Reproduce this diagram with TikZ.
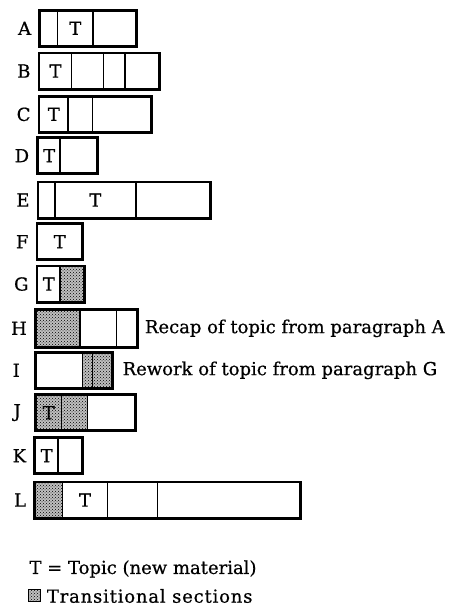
\documentclass[tikz,border=0pt]{standalone}
\usepackage{fontspec}
\setmainfont{DejaVu Serif}[FakeBold=0.6]
\usetikzlibrary{patterns}
\tikzset{
  cell/.style={draw, line width=1.7pt, inner sep=0pt, minimum height=35pt, anchor=north west, font=\fontsize{18}{21}\selectfont},
  shaded/.style={fill=black!25, postaction={pattern=crosshatch dots, pattern color=black}},
  frame/.style={draw, line width=2.2pt},
  lab/.style={anchor=east, inner sep=0pt, font=\fontsize{18}{21}\selectfont},
  txt/.style={anchor=west, inner sep=0pt, font=\fontsize{18}{21}\selectfont},
}
\begin{document}
\begin{tikzpicture}[x=1pt,y=-1pt]
\useasboundingbox (0,0) rectangle (450,610);
% A
\node[cell, minimum width=17.4pt] (A1) at (39.3,10) {};
\node[cell, minimum width=35.6pt] (A2) at (56.7,10) {T};
\node[cell, minimum width=42.7pt] (A3) at (92.3,10) {};
\draw[frame] (A1.north west) rectangle (A3.south east);
\node[lab] (LA) at ([xshift=-8pt]A1.west) {A};
% B
\node[cell, minimum width=32pt] (B1) at (38.7,52.7) {T};
\node[cell, minimum width=32pt] (B2) at (70.7,52.7) {};
\node[cell, minimum width=21.3pt] (B3) at (102.7,52.7) {};
\node[cell, minimum width=34.3pt] (B4) at (124,52.7) {};
\draw[frame] (B1.north west) rectangle (B4.south east);
\node[lab] (LB) at ([xshift=-8pt]B1.west) {B};
% C
\node[cell, minimum width=28.6pt] (C1) at (38.7,96) {T};
\node[cell, minimum width=24.4pt] (C2) at (67.3,96) {};
\node[cell, minimum width=58.3pt] (C3) at (91.7,96) {};
\draw[frame] (C1.north west) rectangle (C3.south east);
\node[lab] (LC) at ([xshift=-8pt]C1.west) {C};
% D
\node[cell, minimum width=22pt] (D1) at (37.3,137.3) {T};
\node[cell, minimum width=36.7pt] (D2) at (59.3,137.3) {};
\draw[frame] (D1.north west) rectangle (D2.south east);
\node[lab] (LD) at ([xshift=-8pt]D1.west) {D};
% E
\node[cell, minimum width=16.3pt] (E1) at (37.7,181.7) {};
\node[cell, minimum width=81pt] (E2) at (54,181.7) {T};
\node[cell, minimum width=74pt] (E3) at (135,181.7) {};
\draw[frame] (E1.north west) rectangle (E3.south east);
\node[lab] (LE) at ([xshift=-8pt]E1.west) {E};
% F
\node[cell, minimum width=44.3pt] (F1) at (36.7,223.3) {T};
\draw[frame] (F1.north west) rectangle (F1.south east);
\node[lab] (LF) at ([xshift=-8pt]F1.west) {F};
% G
\node[cell, minimum width=22.6pt] (G1) at (36.7,265.7) {T};
\node[cell, shaded, minimum width=24pt] (G2) at (59.3,265.7) {};
\draw[frame] (G1.north west) rectangle (G2.south east);
\node[lab] (LG) at ([xshift=-8pt]G1.west) {G};
% H
\node[cell, shaded, minimum width=44pt, minimum height=37pt] (H1) at (35,309) {};
\node[cell, minimum width=36.7pt, minimum height=37pt] (H2) at (79,309) {};
\node[cell, minimum width=20.3pt, minimum height=37pt] (H3) at (115.7,309) {};
\draw[frame] (H1.north west) rectangle (H3.south east);
\node[lab] (LH) at ([xshift=-8pt]H1.west) {H};
\node[txt] (RH) at ([xshift=7pt]H3.east) {Recap of topic from paragraph A};
% I
\node[cell, minimum width=46.7pt] (I1) at (35,352) {};
\node[cell, shaded, minimum width=10pt] (I2) at (81.7,352) {};
\node[cell, shaded, minimum width=19pt] (I3) at (91.7,352) {};
\draw[frame] (I1.north west) rectangle (I3.south east);
\node[lab] (LI) at ([xshift=-15pt]I1.west) {I};
\node[txt] (RI) at ([xshift=10pt]I3.east) {Rework of topic from paragraph G};
% J
\node[cell, shaded, minimum width=25.7pt] (J1) at (35,394.3) {T};
\node[cell, shaded, minimum width=26pt] (J2) at (60.7,394.3) {};
\node[cell, minimum width=47.3pt] (J3) at (86.7,394.3) {};
\draw[frame] (J1.north west) rectangle (J3.south east);
\node[lab] (LJ) at ([xshift=-14pt]J1.west) {J};
% K
\node[cell, minimum width=23pt] (K1) at (34.3,437.3) {T};
\node[cell, minimum width=23.4pt] (K2) at (57.3,437.3) {};
\draw[frame] (K1.north west) rectangle (K2.south east);
\node[lab] (LK) at ([xshift=-8pt]K1.west) {K};
% L
\node[cell, shaded, minimum width=27.4pt] (L1) at (34.3,481.7) {};
\node[cell, minimum width=45pt] (L2) at (61.7,481.7) {T};
\node[cell, minimum width=50pt] (L3) at (106.7,481.7) {};
\node[cell, minimum width=142.3pt] (L4) at (156.7,481.7) {};
\draw[frame] (L1.north west) rectangle (L4.south east);
\node[lab] (LL) at ([xshift=-8pt]L1.west) {L};
% legend
\node[txt] (leg1) at (29.3,569) {T = Topic (new material)};
\node[draw, line width=1pt, shaded, minimum width=11.7pt, minimum height=12pt, inner sep=0pt, anchor=west] (sw) at (28.3,595) {};
\node[txt] (leg2) at (46.7,596) {\addfontfeature{LetterSpace=4.5}Transitional sections};
\end{tikzpicture}
\end{document}
